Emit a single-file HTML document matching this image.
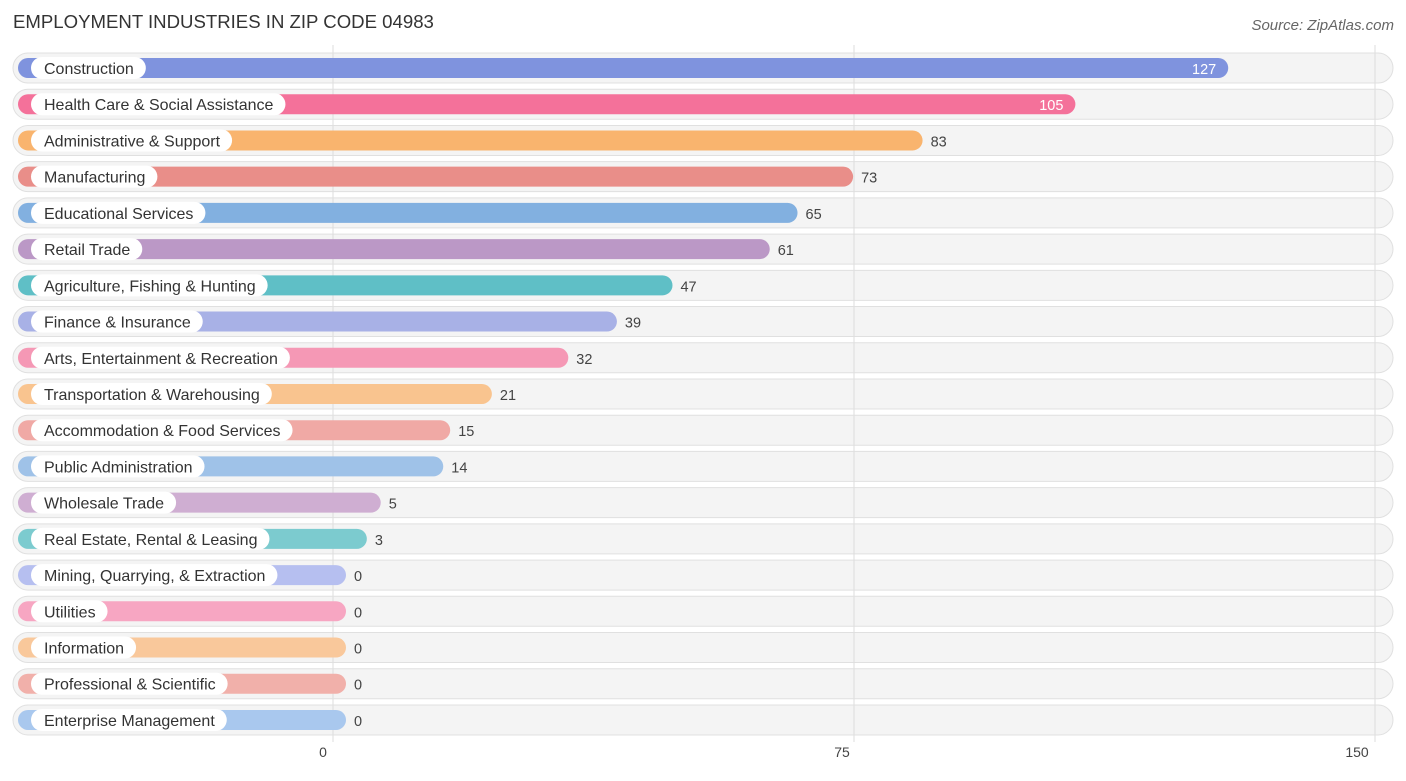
<!DOCTYPE html>
<html><head><meta charset="utf-8"><style>
body{margin:0;background:#fff;font-family:"Liberation Sans",sans-serif;}
svg text{font-family:"Liberation Sans",sans-serif;}
</style></head><body>
<svg id="c" width="1406" height="776" xmlns="http://www.w3.org/2000/svg">
<text x="13" y="28" font-size="18.6" fill="#333">EMPLOYMENT INDUSTRIES IN ZIP CODE 04983</text>
<text x="1394" y="30" font-size="15" fill="#666" font-style="italic" text-anchor="end">Source: ZipAtlas.com</text>
<g id="grid"></g><g id="rows"></g>
</svg>
<script>
const categories=["Construction","Health Care & Social Assistance","Administrative & Support","Manufacturing","Educational Services","Retail Trade","Agriculture, Fishing & Hunting","Finance & Insurance","Arts, Entertainment & Recreation","Transportation & Warehousing","Accommodation & Food Services","Public Administration","Wholesale Trade","Real Estate, Rental & Leasing","Mining, Quarrying, & Extraction","Utilities","Information","Professional & Scientific","Enterprise Management"];
const values=[127,105,83,73,65,61,47,39,32,21,15,14,5,3,0,0,0,0,0];
const colors=["#7f93de","#f4719a","#f9b46e","#e98e89","#82b0e0","#bb98c6","#5fbfc6","#a8b1e6","#f598b5","#f9c48f","#f0a9a5","#9fc2e8","#cfaed2","#7ccbcf","#b6bff0","#f7a6c2","#f9c89b","#f1b0aa","#a9c8ee"];
const ticks=[0,75,150];
const NS="http://www.w3.org/2000/svg";
const x0=333,k=521/75;
function xs(v){return x0+v*k;}
function yr(i){return 68+i*36.22;}
function mk(t,a,p){const e=document.createElementNS(NS,t);for(const q in a)e.setAttribute(q,a[q]);p.appendChild(e);return e;}
const grid=document.getElementById('grid'),rows=document.getElementById('rows');
ticks.forEach(t=>{
 const l=mk('line',{x1:xs(t),x2:xs(t),y1:45,y2:742,stroke:'#ddd','stroke-width':1},grid);
 
 
 const tx=mk('text',{x:xs(t)-(t===150?18:t===0?10:12),y:757,'font-size':14,fill:'#444','text-anchor':'middle'},grid);
 tx.textContent=t;
 
 
});
categories.forEach((c,i)=>{
 const y=yr(i);
 const g=mk('g',{},rows);
 
 
 const bg=mk('rect',{x:13,y:y-15,width:1380,height:30,rx:15,fill:'#f4f4f4',stroke:'#e0e0e0','stroke-width':1},g);
 
 
 ticks.forEach(t=>{const gl=mk('line',{x1:xs(t),x2:xs(t),y1:y-15,y2:y+15,stroke:'#ddd'},g);
  
  });
 const end=xs(values[i])+13;
 const bar=mk('rect',{x:18,y:y-10,width:end-18,height:20,rx:10,fill:colors[i]},g);
 
 
 const lab=mk('text',{x:44,y:y+6,'font-size':16,fill:'#333'},g);
 lab.textContent=c;
 
 
 const w=lab.getComputedTextLength();
 const pill=mk('rect',{x:31,y:y-11,width:w+25,height:22,rx:11,fill:'#fff'},g);
 
 
 g.insertBefore(pill,lab);
 const inside=values[i]>90;
 const v=mk('text',{x:inside?end-12:end+8,y:y+6,'font-size':14.5,fill:inside?'#fff':'#444','text-anchor':inside?'end':'start'},g);
 v.textContent=values[i];
 
 
});
</script>
</body></html>
